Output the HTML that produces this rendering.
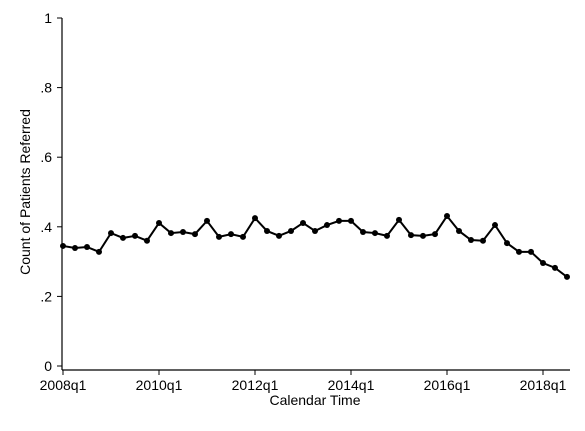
<!DOCTYPE html>
<html><head><meta charset="utf-8"><style>
body{margin:0;background:#fff;}
svg text{font-family:"Liberation Sans",Arial,sans-serif;font-size:14px;fill:#000;}
</style></head><body>
<svg id="chart" width="585" height="426" xmlns="http://www.w3.org/2000/svg">
<rect width="585" height="426" fill="#fff"/>
<line x1="62" y1="18" x2="62" y2="370" stroke="#000" stroke-width="1.2"/>
<line x1="62" y1="370" x2="570" y2="370" stroke="#000" stroke-width="1.2"/>
<g id="yticks"></g><g id="xticks"></g>
<text x="30" y="192" text-anchor="middle" transform="rotate(-90 30 192)">Count of Patients Referred</text>
<text x="315" y="405" text-anchor="middle">Calendar Time</text>
<g id="series"></g>
</svg>
<script>
const yTicks=[0,0.2,0.4,0.6,0.8,1];
const yTickLabels=["0",".2",".4",".6",".8","1"];
const xTickIdx=[0,8,16,24,32,40];
const xTickLabels=["2008q1","2010q1","2012q1","2014q1","2016q1","2018q1"];
const values=[0.345,0.339,0.342,0.328,0.382,0.368,0.374,0.36,0.411,0.382,0.385,0.379,0.417,0.371,0.379,0.371,0.425,0.388,0.374,0.388,0.411,0.388,0.405,0.417,0.417,0.385,0.382,0.374,0.42,0.376,0.374,0.379,0.431,0.388,0.362,0.36,0.405,0.353,0.328,0.328,0.296,0.282,0.256];
const NS="http://www.w3.org/2000/svg";
const yS=v=>366-v*348;
const xS=i=>63+i*12;
function mk(t,a,p){const e=document.createElementNS(NS,t);for(const k in a)e.setAttribute(k,a[k]);p.appendChild(e);return e;}
const yg=document.getElementById('yticks');
yTicks.forEach((v,i)=>{
 const l=mk('line',{x1:57,x2:62,y1:yS(v),y2:yS(v),stroke:'#000'},yg);
 
 
 const t=mk('text',{x:52,y:yS(v)+5,'text-anchor':'end'},yg);t.textContent=yTickLabels[i];
 
 
});
const xg=document.getElementById('xticks');
xTickIdx.forEach((q,i)=>{
 const l=mk('line',{x1:xS(q),x2:xS(q),y1:370,y2:375,stroke:'#000'},xg);
 
 
 const t=mk('text',{x:xS(q),y:390,'text-anchor':'middle'},xg);t.textContent=xTickLabels[i];
 
 
});
const sg=document.getElementById('series');
const pl=mk('polyline',{points:values.map((v,i)=>xS(i)+','+yS(v)).join(' '),fill:'none',stroke:'#000','stroke-width':2},sg);


values.forEach((v,i)=>{
 const c=mk('circle',{cx:xS(i),cy:yS(v),r:3,fill:'#000'},sg);
 
 
});
</script>
</body></html>
